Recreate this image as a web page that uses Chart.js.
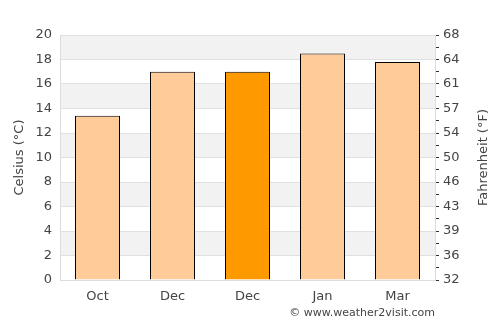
<!DOCTYPE html>
<html lang="en">
<head>
<meta charset="UTF-8">
<title>Celsius / Fahrenheit</title>
<script src="https://cdn.jsdelivr.net/npm/chart.js"></script>
<style>
  html, body { margin: 0; padding: 0; background: #fff; }
  #wrap { position: relative; width: 500px; height: 325px; }
</style>
</head>
<body>
<div id="wrap"><canvas id="chartTemp" width="500" height="325"></canvas></div>
<script>
// data
const months = ['Oct', 'Dec', 'Dec', 'Jan', 'Mar'];
const celsius = [13.4, 17, 17, 18.5, 17.8];
const highlightIndex = 2;
const yMin = 0, yMax = 20, yStep = 2;

const barColors = celsius.map((v, i) => i === highlightIndex ? '#ff9900' : '#ffcc99');
const textColor = '#444';
const fontName = "'DejaVu Sans', sans-serif";

// grey bands between every other grid line
const bandPlugin = {
    id: 'bands',
    beforeDraw(chart) {
        const ctx = chart.ctx;
        const area = chart.chartArea;
        const y = chart.scales.y;
        ctx.save();
        ctx.fillStyle = '#f2f2f2';
        for (let v = yMin; v < yMax; v += yStep) {
            if ((v / yStep) % 2 === 1) {
                const top = y.getPixelForValue(v + yStep);
                const bottom = y.getPixelForValue(v);
                ctx.fillRect(area.left, top, area.right - area.left, bottom - top);
            }
        }
        ctx.restore();
    }
};

// credit text + right axis title (read bottom to top, like the left one)
const extraTextPlugin = {
    id: 'extraText',
    afterDraw(chart) {
        const ctx = chart.ctx;
        const area = chart.chartArea;
        ctx.save();
        ctx.font = "11px " + fontName;
        ctx.fillStyle = textColor;
        ctx.textAlign = 'right';
        ctx.textBaseline = 'middle';
        ctx.fillText('© www.weather2visit.com', area.right, 313);

        ctx.font = "13px " + fontName;
        ctx.textAlign = 'center';
        ctx.translate(484, (area.top + area.bottom) / 2);
        ctx.rotate(-Math.PI / 2);
        ctx.fillText('Fahrenheit (°F)', 0, 0);
        ctx.restore();
    }
};

new Chart(document.getElementById('chartTemp'), {
    type: 'bar',
    data: {
        labels: months,
        datasets: [{
            data: celsius,
            backgroundColor: barColors,
            borderColor: '#000',
            borderWidth: 1,
            borderSkipped: 'bottom',
            barPercentage: 0.6,
            categoryPercentage: 1.0
        }]
    },
    options: {
        responsive: false,
        animation: false,
        layout: { padding: { top: 35, left: 0, right: 0, bottom: 0 } },
        plugins: { legend: { display: false }, tooltip: { enabled: false } },
        scales: {
            x: {
                grid: { display: false },
                border: { color: '#dddddd' },
                ticks: { color: textColor, font: { family: fontName, size: 13 }, padding: 1 },
                afterFit: s => { s.height = 45; }
            },
            y: {
                position: 'left',
                min: yMin, max: yMax,
                ticks: { stepSize: yStep, color: textColor, font: { family: fontName, size: 13 }, padding: 8 },
                grid: { color: '#e0e0e0', drawTicks: false },
                border: { color: '#dddddd' },
                title: { display: true, text: 'Celsius (°C)', color: textColor, font: { family: fontName, size: 13 }, padding: { top: 12, bottom: 0 } },
                afterFit: s => { s.width = 60; }
            },
            y2: {
                position: 'right',
                min: yMin, max: yMax,
                ticks: {
                    stepSize: 1,
                    autoSkip: false,
                    color: textColor,
                    font: { family: fontName, size: 13 },
                    padding: 4,
                    callback: v => v % 2 === 0 ? Math.round(v * 9 / 5 + 32) : ''
                },
                grid: { drawOnChartArea: false, drawTicks: true, tickLength: 4, color: '#333' },
                border: { color: '#dddddd' },
                afterFit: s => { s.width = 65; }
            }
        }
    },
    plugins: [bandPlugin, extraTextPlugin]
});
</script>
</body>
</html>
